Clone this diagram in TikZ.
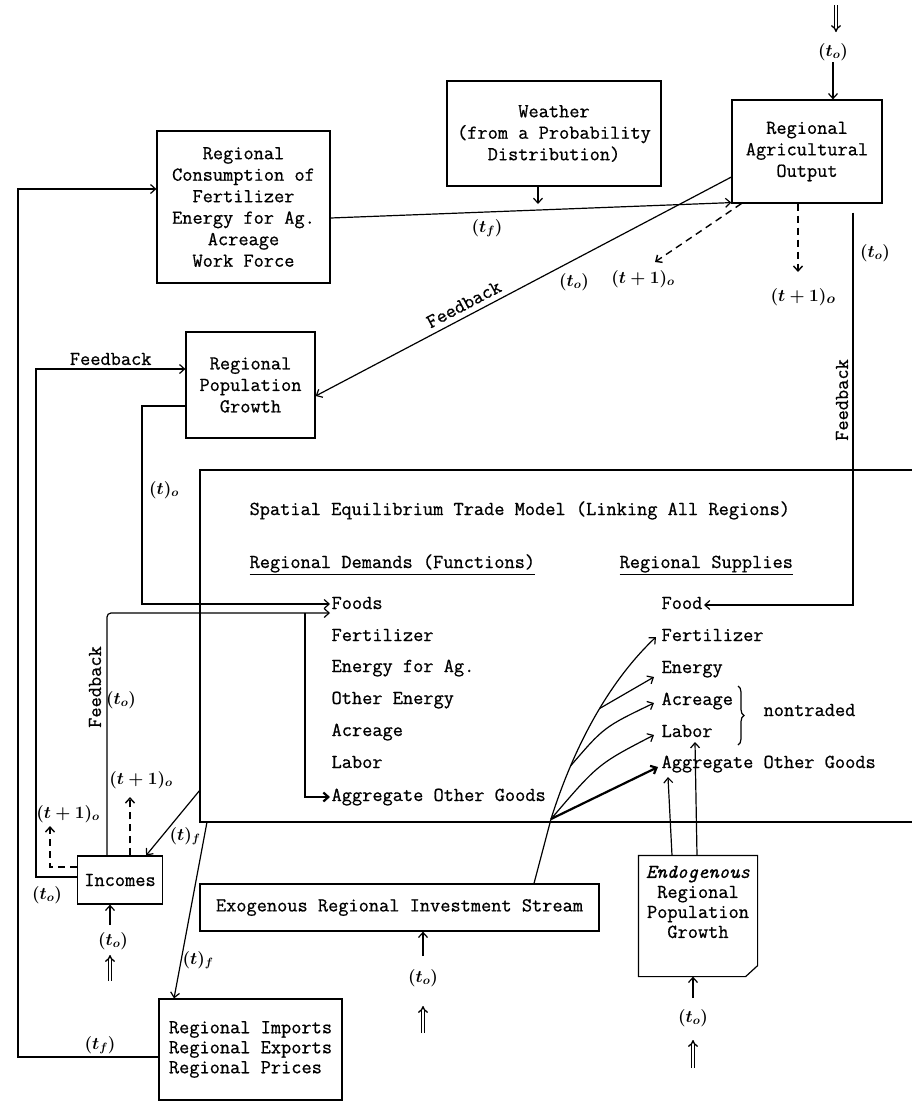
\documentclass[tikz,border=0pt]{standalone}
\usepackage{fontspec}
\setmonofont{Latin Modern Mono}[FakeBold=0.7]
\usetikzlibrary{arrows.meta,decorations.pathreplacing}

\begin{document}
\begin{tikzpicture}[x=1pt,y=-1pt,line width=1.2pt,
    >={Straight Barb[length=5pt,width=9pt]},
    font=\ttfamily\fontsize{19.8}{21.5}\selectfont,
    box/.style={draw,align=center,inner sep=0pt},
    item/.style={anchor=west,inner sep=1pt,text height=11pt,text depth=3pt},
    tlab/.style={font=\fontsize{17}{17}\selectfont\boldmath,inner sep=1pt},
    dsh/.style={dash pattern=on 7pt off 5pt,line width=1.4pt},
    dbl/.style={double,double distance=2pt,line width=1.3pt,-{Implies}},
    heavy/.style={line width=2.2pt,->}]
    \useasboundingbox (0,0) rectangle (912,1104);
    % boxes
    \node[box,minimum width=173pt,minimum height=152pt] (cons) at (243.5,207)
      {Regional\\Consumption of\\Fertilizer\\Energy for Ag.\\Acreage\\Work Force};
    \node[box,minimum width=214pt,minimum height=105pt] (weather) at (554,133.5)
      {Weather\\(from a Probability\\Distribution)};
    \node[box,minimum width=150pt,minimum height=103pt] (agout) at (807,151.5)
      {Regional\\Agricultural\\Output};
    \node[box,minimum width=129pt,minimum height=106pt] (popg) at (250.5,385)
      {Regional\\Population\\Growth};
    \node[box,minimum width=85pt,minimum height=48pt] (income) at (120,880) {Incomes};
    \node[box,minimum width=183pt,minimum height=101pt,align=left,
      font=\ttfamily\fontsize{19.8}{20}\selectfont] (imports) at (250.5,1049.5)
      {Regional Imports\\Regional Exports\\Regional Prices};
    \node[box,minimum width=399pt,minimum height=47pt] (invest) at (399.5,907.5)
      {Exogenous Regional Investment Stream};
    \node[minimum width=118pt,minimum height=120pt,inner sep=0pt] (endog) at (698,916) {};
    \draw (endog.north west) -- (endog.north east) -- ([yshift=11pt]endog.south east)
      -- ([xshift=-12pt]endog.south east) -- (endog.south west) -- cycle;
    \node[align=center,font=\ttfamily\fontsize{19.8}{20}\selectfont] (endogtxt) at (698,902)
      {{\itshape Endogenous}\\Regional\\Population\\Growth};
    % trade model
    \draw (912,470) -- (200,470) -- (200,822) -- (912,822);
    \node[item] (title) at (248,511) {Spatial Equilibrium Trade Model (Linking All Regions)};
    \node[item] (demhead) at (248,564) {\underline{Regional Demands (Functions)}};
    \node[item] (suphead) at (618,564) {\underline{Regional Supplies}};
    \node[item] (d1) at (330,605) {Foods};
    \node[item] (d2) at (330,637) {Fertilizer};
    \node[item] (d3) at (330,668) {Energy for Ag.};
    \node[item] (d4) at (330,700) {Other Energy};
    \node[item] (d5) at (330,732) {Acreage};
    \node[item] (d6) at (330,764) {Labor};
    \node[item] (d7) at (330,797) {Aggregate Other Goods};
    \node[item] (s1) at (660,605) {Food};
    \node[item] (s2) at (660,637) {Fertilizer};
    \node[item] (s3) at (660,669) {Energy};
    \node[item] (s4) at (660,701) {Acreage};
    \node[item] (s5) at (660,733) {Labor};
    \node[item] (s6) at (660,764) {Aggregate Other Goods};
    \draw[decorate,decoration={brace,amplitude=6pt}] (738,686) -- (738,745);
    \node[item] (nontr) at (762,712) {nontraded};
    % input to agricultural output
    \coordinate (agin0) at (836,5);
    \coordinate (agin1) at (836,32);
    \draw[dbl] (agin0) -- (agin1);
    \node[tlab] (agt) at (833,52) {$(t_o)$};
    \draw[->] (agt) -- (agt |- agout.north);
    % consumption and weather into output
    \draw[->] (cons.east |- 0,218) -- ([yshift=1pt]agout.south west);
    \node[tlab] (ltf1) at (487,228) {$(t_f)$};
    \coordinate (wtip) at (538,204);
    \draw[->] (wtip |- weather.south) -- (wtip);
    % output feedback to population
    \draw[->] (agout.west |- 0,177) -- (popg.east |- 0,396)
      node[pos=0.63,sloped,above=2pt] (fb1) {Feedback};
    \node[tlab] (lto1) at (574,282) {$(t_o)$};
    % next period output
    \coordinate (agd1) at (655,262);
    \draw[dsh,->] ([xshift=10pt]agout.south west) -- (agd1);
    \node[tlab] (ltp1) at (643,279) {$(t+1)_o$};
    \coordinate (agd2) at (798,272);
    \draw[dsh,->] (agout.south -| agd2) -- (agd2);
    \node[tlab,font=\fontsize{19}{19}\selectfont\boldmath] (ltp2) at (803,297) {$(t+1)_o$};
    % output feedback to food supply
    \draw[->] ([yshift=-9pt]agout.south -| 853,0) -- (853,605) -- (s1.east);
    \node[tlab] (lto2) at (875,253) {$(t_o)$};
    \node[rotate=90] (fb2) at (842,400) {Feedback};
    % population to food demand
    \draw[->] (popg.west |- 0,406) -| (142,604) -- (d1.west |- 0,604);
    \node[tlab] (lto3) at (164,490) {$(t)_o$};
    % incomes to food demand
    \draw[->,rounded corners=4pt] (income.north -| 107,0) -- (107,613) -- (d1.west |- 0,613);
    \node[rotate=90] (fb3) at (95,687) {Feedback};
    \node[tlab] (lto4) at (121,700) {$(t_o)$};
    \draw[heavy] (305,613) -- (305,797) -- (d7.west);
    % incomes next period
    \coordinate (incd1) at (130,797);
    \draw[dsh,->] (income.north -| incd1) -- (incd1);
    \node[tlab] (ltp3) at (141,780) {$(t+1)_o$};
    \coordinate (incd2) at (50,826);
    \draw[dsh,->] (income.west |- 0,867) -| (incd2);
    \node[tlab] (ltp4) at (68,814) {$(t+1)_o$};
    % incomes feedback to population
    \draw[->] (income.west |- 0,877) -| (36,369) -- (popg.west |- 0,369)
      node[pos=0.5,above] (fb4) {Feedback};
    \node[tlab] (lto5) at (47,895) {$(t_o)$};
    % imports to consumption
    \draw[->] (imports.west |- 0,1057) -| (18,189) -- (cons.west |- 0,189);
    \node[tlab] (ltf2) at (100,1045) {$(t_f)$};
    % incomes input
    \coordinate (incin) at (110,925);
    \draw[->] (incin) -- (income.south -| incin);
    \node[tlab] (lto6) at (113,941) {$(t_o)$};
    \coordinate (incin0) at (110,981);
    \coordinate (incin1) at (110,955);
    \draw[dbl] (incin0) -- (incin1);
    % trade model outputs
    \coordinate (tmout1) at (200,790);
    \coordinate (tmout2) at (207,822);
    \draw[->] (tmout1) -- ([xshift=-17pt]income.north east);
    \node[tlab] (ltf3) at (185,836) {$(t)_f$};
    \draw[->] (tmout2) -- (imports.north west -| 174,0);
    \node[tlab] (ltf4) at (198,960) {$(t)_f$};
    % investment input
    \coordinate (invin) at (423,956);
    \draw[->] (invin) -- (invest.south -| invin);
    \node[tlab] (lto7) at (423,978) {$(t_o)$};
    \coordinate (invin0) at (423,1033);
    \coordinate (invin1) at (423,1006);
    \draw[dbl] (invin0) -- (invin1);
    % investment to supplies
    \coordinate (fan) at (551,819);
    \draw (invest.north -| 534,0) -- (fan);
    \draw[->] (fan) .. controls (568,765) and (600,690) .. ([xshift=-4pt]s2.west)
      coordinate[pos=0.3] (fan1) coordinate[pos=0.6] (fan2);
    \draw[->] (fan2) -- ([xshift=-6pt,yshift=-8pt]s3.west);
    \draw[->] (fan1) .. controls (604,727) .. ([xshift=-6pt,yshift=-2pt]s4.west);
    \draw[->] (fan) .. controls (598,764) .. ([xshift=-6pt,yshift=-2pt]s5.west);
    \draw[heavy] (fan) -- ([xshift=-2pt,yshift=-3pt]s6.west);
    % endogenous population to supplies
    \coordinate (en1) at (668,777);
    \coordinate (en2) at (695,742);
    \draw[->] (endog.north -| 672,0) -- (en1);
    \draw[->] (endog.north -| 697,0) -- (en2);
    \coordinate (enin) at (693,998);
    \draw[->] (enin) -- (endog.south -| enin);
    \node[tlab] (lto8) at (693,1018) {$(t_o)$};
    \coordinate (enin0) at (693,1068);
    \coordinate (enin1) at (693,1040);
    \draw[dbl] (enin0) -- (enin1);
  \end{tikzpicture}
\end{document}
